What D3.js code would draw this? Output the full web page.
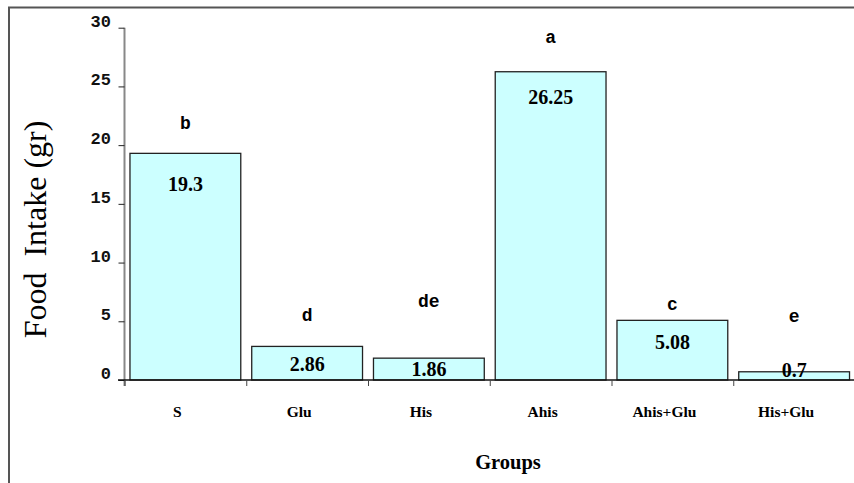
<!DOCTYPE html>
<html>
<head>
<meta charset="utf-8">
<script src="https://cdn.jsdelivr.net/npm/d3@7"></script>
<style>
  body { margin: 0; background: #fff; }
  svg { display: block; }
</style>
</head>
<body>
<div id="chart"></div>
<script>
// data
const groups = ['S', 'Glu', 'His', 'Ahis', 'Ahis+Glu', 'His+Glu'];
const intake = [19.3, 2.86, 1.86, 26.25, 5.08, 0.7];
const letters = ['b', 'd', 'de', 'a', 'c', 'e'];
// where the letters and the value labels sit, in data units (gr)
const letterLevels = [21.4, 5.0, 6.2, 28.7, 6.0, 4.9];
const valueLevels = [16.1, 0.8, 0.3, 23.5, 2.6, 0.25];
const yTicks = [0, 5, 10, 15, 20, 25, 30];

const width = 854, height = 483;
const margin = { top: 27.7, right: -1, bottom: 103, left: 124.5 };

const svg = d3.select('#chart')
  .append('svg')
  .attr('width', width)
  .attr('height', height);

// outer frame
svg.append('path')
  .attr('d', `M9,${height + 5}V7.5H${width + 5}`)
  .attr('fill', 'none')
  .attr('stroke', '#555')
  .attr('stroke-width', 2);

const x = d3.scaleBand()
  .domain(groups)
  .range([margin.left, width - margin.right])
  .paddingInner(0.09)
  .paddingOuter(0.045);

const y = d3.scaleLinear()
  .domain([0, 30])
  .range([height - margin.bottom, margin.top]);

const y0 = y(0);

// bars
svg.selectAll('.bar')
  .data(intake)
  .enter()
  .append('rect')
  .attr('class', 'bar')
  .attr('x', (d, i) => x(groups[i]))
  .attr('y', d => y(d))
  .attr('width', x.bandwidth())
  .attr('height', d => y0 - y(d))
  .attr('fill', '#ccffff')
  .attr('stroke', '#222')
  .attr('stroke-width', 1.3);

// y axis
const yAxis = svg.append('g')
  .attr('transform', `translate(${margin.left},0)`)
  .call(d3.axisLeft(y).tickValues(yTicks).tickSize(6).tickPadding(7.5).tickSizeOuter(0));
yAxis.select('.domain')
  .attr('stroke', '#888')
  .attr('stroke-width', 2)
  .attr('d', `M0,${y(30)}V${y0 + 6}`);
yAxis.selectAll('.tick line').attr('stroke', '#222');
yAxis.selectAll('.tick text')
  .attr('dy', '-1.5')
  .style('font-family', '"Courier New", "Liberation Mono", monospace')
  .style('font-weight', 'bold')
  .style('font-size', '17px')
  .attr('fill', '#111');

// x axis: ticks at the group boundaries
const xb = d3.scaleLinear().domain([0, groups.length]).range(x.range());
const xAxis = svg.append('g')
  .attr('transform', `translate(0,${y0})`)
  .call(d3.axisBottom(xb).ticks(groups.length).tickSize(6).tickSizeOuter(0).tickFormat(''));
xAxis.select('.domain')
  .attr('stroke', '#111')
  .attr('stroke-width', 1.5)
  .attr('d', `M${margin.left - 6.5},0H${width}`);
xAxis.selectAll('.tick line').attr('stroke', '#444');

// category labels
svg.selectAll('.cat')
  .data(groups)
  .enter()
  .append('text')
  .attr('class', 'cat')
  .attr('x', d => x(d) + x.bandwidth() / 2 - 8)
  .attr('y', y0 + 36.7)
  .attr('text-anchor', 'middle')
  .style('font-family', '"Times New Roman", "Liberation Serif", serif')
  .style('font-weight', 'bold')
  .style('font-size', '15.5px')
  .text(d => d);

// value labels inside bars
svg.selectAll('.val')
  .data(intake)
  .enter()
  .append('text')
  .attr('class', 'val')
  .attr('x', (d, i) => x(groups[i]) + x.bandwidth() / 2)
  .attr('y', (d, i) => y(valueLevels[i]))
  .attr('text-anchor', 'middle')
  .style('font-family', '"Times New Roman", "Liberation Serif", serif')
  .style('font-weight', 'bold')
  .style('font-size', '20px')
  .text(d => d);

// significance letters
svg.selectAll('.letter')
  .data(letters)
  .enter()
  .append('text')
  .attr('class', 'letter')
  .attr('x', (d, i) => x(groups[i]) + x.bandwidth() / 2)
  .attr('y', (d, i) => y(letterLevels[i]))
  .attr('text-anchor', 'middle')
  .style('font-family', '"Courier New", "Liberation Mono", monospace')
  .style('font-weight', 'bold')
  .style('font-size', '18px')
  .text(d => d);

// axis titles
svg.append('text')
  .attr('transform', `translate(45.5,229.5) rotate(-90)`)
  .attr('text-anchor', 'middle')
  .attr('xml:space', 'preserve')
  .style('white-space', 'pre')
  .style('font-family', '"Times New Roman", "Liberation Serif", serif')
  .style('font-size', '32px')
  .text('Food  Intake (gr)');

svg.append('text')
  .attr('x', 508)
  .attr('y', 469)
  .attr('text-anchor', 'middle')
  .style('font-family', '"Times New Roman", "Liberation Serif", serif')
  .style('font-weight', 'bold')
  .style('font-size', '20.5px')
  .text('Groups');
</script>
</body>
</html>
